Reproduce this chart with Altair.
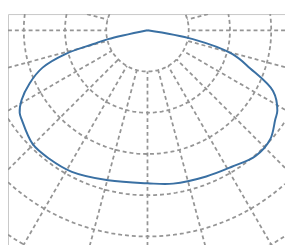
import altair as alt
import pandas as pd

# Outline (longitude, latitude), polar view
outline_lon = [0, -77.3, -75.7, -73.9, -70.4, -65.8, -61.0, -57.1, -54.6, -45.2, -37.4, -28.1, -14.7, 0,
               9.5, 21.9, 31.7, 40.7, 48.4, 55.0, 58.3, 64.2, 69.7, 74.4, 78.9, 0]
outline_lat = [90, 80.2, 76.5, 69.4, 63.0, 58.7, 55.1, 53.1, 52.6, 50.8, 50.8, 51.1, 52.4, 52.9,
               52.3, 51.8, 51.1, 49.8, 50.2, 52.2, 53.0, 56.2, 63.5, 68.7, 78.8, 90]

# Graticule settings
grat_step = [15, 10]
grat_extent = [[-180, -80], [180, 80.001]]

df = pd.DataFrame({"lon": outline_lon, "lat": outline_lat, "i": list(range(len(outline_lon)))})

W, H = 282, 236

grat = alt.Chart(alt.graticule(extent=grat_extent, step=grat_step)).mark_geoshape(
    filled=False, stroke="#959595", strokeWidth=1.8, strokeDash=[4, 3]
)

outline = alt.Chart(df).mark_line(color="#3a70a3", strokeWidth=2, interpolate="catmull-rom").encode(
    longitude="lon:Q", latitude="lat:Q", order="i:Q"
)

chart = alt.layer(grat, outline).properties(
    width=W, height=H,
    view=alt.ViewBackground(stroke="#c8c8c8", strokeWidth=1),
    projection=alt.Projection(
        type="azimuthalEquidistant", rotate=[0, -90, 0], scale=240.6,
        translate=[142, 16.5], clipExtent=[[0, 0], [W, H]]
    ),
    padding={"left": 0, "top": 4, "right": 0, "bottom": 0},
).configure_view(stroke="#c8c8c8", strokeWidth=1)

chart.save("out.html", embed_options={"renderer": "svg", "actions": False})
